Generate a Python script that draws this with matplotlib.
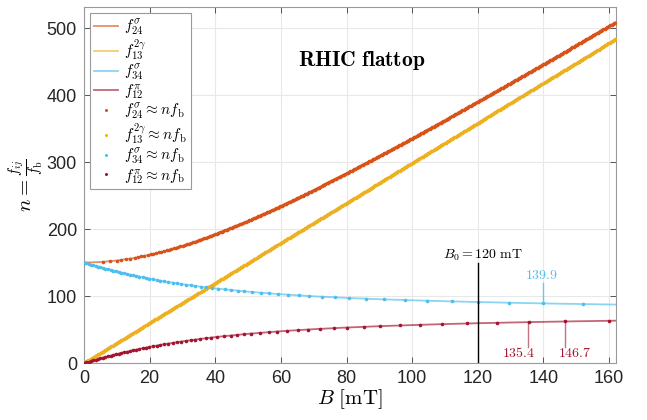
import numpy as np
import matplotlib
matplotlib.use("Agg")
import matplotlib.pyplot as plt

plt.rcParams["mathtext.fontset"] = "cm"
plt.rcParams["font.family"] = ["Liberation Sans", "DejaVu Sans"]

# values (B in mT, n = f/f_b)
B = [0, 5, 10, 15, 20, 25, 30, 35, 40, 50, 60, 70, 80, 90, 100, 110, 120, 130, 140, 150, 160, 162]
f24 = [150.0, 150.7, 153.0, 156.6, 161.6, 167.7, 174.9, 183.1, 192.1, 212.1, 234.3, 258.1,
       283.0, 308.9, 335.4, 362.5, 390.0, 417.9, 446.0, 474.3, 502.9, 508.6]
f13 = [0.0, 14.9, 29.9, 44.8, 59.7, 74.6, 89.6, 104.5, 119.4, 149.3, 179.1, 209.0,
       238.8, 268.7, 298.5, 328.4, 358.2, 388.1, 417.9, 447.8, 477.6, 483.6]
f34 = [150.0, 142.9, 136.6, 130.9, 125.9, 121.5, 117.7, 114.3, 111.4, 106.45, 102.65, 99.6,
       97.15, 95.2, 93.65, 92.25, 91.02, 89.95, 88.98, 88.14, 87.40, 87.26]
f12 = [0.0, 7.1, 13.4, 19.1, 24.1, 28.5, 32.3, 35.7, 38.7, 43.6, 47.45, 50.5,
       52.95, 54.95, 56.65, 58.13, 59.4, 60.45, 61.42, 62.29, 63.01, 63.16]

names = [r"f_{24}^{\sigma}", r"f_{13}^{2\gamma}", r"f_{34}^{\sigma}", r"f_{12}^{\pi}"]
colors = ["#D95319", "#EDB120", "#4DBEEE", "#A2142F"]

B0 = 120
marks_34 = [139.9]
marks_12 = [135.4, 146.7]

fig = plt.figure(figsize=(6.47, 4.20), dpi=100)
ax = fig.add_axes([0.1298, 0.1357, 0.8223, 0.8469])

series = [f24, f13, f34, f12]
for vals, nm, c in zip(series, names, colors):
    ax.plot(B, vals, color=c, lw=1.3, alpha=0.65, label=f"${nm}$", zorder=2)

# points where the frequency is an integer multiple of f_b
for vals, nm, c in zip(series, names, colors):
    v = np.asarray(vals)
    lo, hi = int(np.ceil(v.min())), int(np.floor(v.max()))
    n = np.arange(lo, hi + 1)
    if v[-1] < v[0]:
        bn = np.interp(n, v[::-1], np.asarray(B)[::-1])
    else:
        bn = np.interp(n, v, B)
    ax.plot(bn, n, ls="none", marker="o", ms=2.6, mew=0, color=c,
            label=rf"${nm} \approx n f_\mathrm{{b}}$", zorder=3)

# B0 marker
ax.plot([B0, B0], [0, 149], color="black", lw=1.0, zorder=4)
ax.text(B0 + 1.5, 161, r"$B_0 = 120\ \mathrm{mT}$", ha="center", va="center", fontsize=10)

for b in marks_34:
    nv = np.interp(b, B, f34)
    ax.plot([b, b], [nv, 119], color=colors[2], lw=1.0, alpha=0.8, zorder=4)
    ax.text(b - 0.4, 131, f"${b}$", color=colors[2], ha="center", va="center", fontsize=10)

for b, dx in zip(marks_12, [-3.0, 2.7]):
    nv = np.interp(b, B, f12)
    ax.plot([b, b], [nv, 24], color=colors[3], lw=1.0, alpha=0.6, zorder=4)
    ax.text(b + dx, 15, f"${b}$", color=colors[3], ha="center", va="center", fontsize=10)

ax.text(84.7, 451, r"$\mathbf{RHIC\ flattop}$", ha="center", va="center", fontsize=15.5)

ax.set_xlim(0, 162.1)
ax.set_ylim(0, 531)
ax.set_xticks(range(0, 161, 20))
ax.set_yticks(range(0, 501, 100))
ax.tick_params(direction="in", length=4, width=0.7, top=True, right=True,
               labelsize=13, colors="#555555", labelcolor="#262626", pad=5)
ax.grid(True, color="#e8e8e8", lw=0.8)
ax.set_axisbelow(True)
for s in ax.spines.values():
    s.set_color("#9a9a9a")
    s.set_linewidth(0.8)

ax.set_xlabel(r"$B\ [\mathrm{mT}]$", fontsize=15, labelpad=0)
ax.set_ylabel(r"$n = \frac{f_{ij}}{f_\mathrm{b}}$", fontsize=15, labelpad=0)

leg = ax.legend(loc="upper left", fontsize=11, fancybox=False, framealpha=1,
                edgecolor="#9a9a9a", borderaxespad=0.4, handlelength=1.6,
                handletextpad=0.4, labelspacing=0.0, borderpad=0.25, numpoints=1)
leg.get_frame().set_linewidth(0.8)
for h in leg.legend_handles[4:]:
    h.set_markersize(2.2)

fig.savefig("out.png", dpi=100)
